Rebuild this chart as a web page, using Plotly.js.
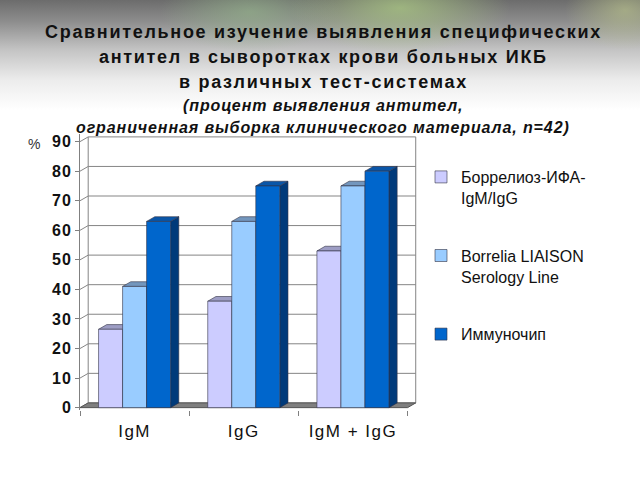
<!DOCTYPE html>
<html>
<head>
<meta charset="utf-8">
<script src="https://cdn.plot.ly/plotly-3.0.1.min.js"></script>
<style>
html,body{margin:0;padding:0;}
body{width:640px;height:480px;overflow:hidden;
background:
 radial-gradient(ellipse 110px 45px at 400px 8px, rgba(170,200,130,0.75), rgba(170,200,130,0) 100%),
 radial-gradient(ellipse 90px 40px at 250px 12px, rgba(150,185,140,0.6), rgba(150,185,140,0) 100%),
 radial-gradient(ellipse 60px 40px at 625px 10px, rgba(190,200,140,0.6), rgba(190,200,140,0) 100%),
 linear-gradient(to bottom, #6c6c6c 0px, #8e8e8e 22px, #c4c4c4 50px, #ececec 80px, #ffffff 110px);}
#chart{width:640px;height:480px;}
#chart .xtick text{letter-spacing:1.5px;}
#chart .ytick text{letter-spacing:1px;}
</style>
</head>
<body>
<div id="chart"></div>
<script>
// ---- data ----
const categories = ['IgM', 'IgG', 'IgM + IgG'];
const seriesNames = ['Боррелиоз-ИФА-<br>IgM/IgG', 'Borrelia LIAISON<br>Serology Line', 'Иммуночип'];
const borreliozIFA = [26.5, 36, 53];
const liaison = [41, 63, 75];
const immunochip = [63, 75, 80];
const yTicks = [0, 10, 20, 30, 40, 50, 60, 70, 80, 90];

// ---- styles ----
const frontColors = ['#CCCCFF', '#99CCFF', '#0066CC'];
const topColors = ['#9d9dc4', '#7396bd', '#0a56a8'];
const sideColors = ['#8f8fb8', '#6a8fb8', '#003a7a'];
const FONT = 'Liberation Sans, Arial, sans-serif';
const BAR_W = 0.22, DX = 0.075, DY = 1.6;
const L = 80, R = 221, T = 134, B = 70;
const XR = [-0.5, 2.5 + DX + 0.03], YR = [-0.8, 92.58];
const PW = 640 - L - R, PH = 480 - T - B;
const px2x = p => (p - L) / PW;
const py2y = p => (480 - B - p) / PH;

const allValues = [borreliozIFA, liaison, immunochip];
const traces = [];

// back-wall gridlines with left-wall diagonals
const gx = [], gy = [];
yTicks.forEach(t => { gx.push(XR[0], -0.5 + DX, 2.5 + DX, null); gy.push(t, t + DY, t + DY, null); });
gx.push(-0.5 + DX, -0.5 + DX, null, 2.5 + DX, 2.5 + DX, null);
gy.push(DY, 90 + DY, null, DY, 90 + DY, null);
traces.push({x: gx, y: gy, mode: 'lines', line: {color: '#858585', width: 1}, showlegend: false, hoverinfo: 'skip'});

// floor
traces.push({x: [-0.5, 2.5, 2.5 + DX, -0.5 + DX, -0.5], y: [0, 0, DY, DY, 0], mode: 'lines', fill: 'toself',
  fillcolor: '#7f7f7f', line: {color: '#555555', width: 1}, showlegend: false, hoverinfo: 'skip'});

// 3D faces
allValues.forEach((vals, j) => {
  const sx = [], sy = [], tx = [], ty = [];
  vals.forEach((v, i) => {
    const c = i + (j - 1) * BAR_W;
    const a = c - BAR_W / 2, b = c + BAR_W / 2;
    sx.push(b, b + DX, b + DX, b, b, null); sy.push(0, DY, v + DY, v, 0, null);
    tx.push(a, b, b + DX, a + DX, a, null); ty.push(v, v, v + DY, v + DY, v, null);
  });
  traces.push({x: sx, y: sy, mode: 'lines', fill: 'toself', fillcolor: sideColors[j],
    line: {color: '#333344', width: 0.6}, showlegend: false, hoverinfo: 'skip'});
  traces.push({x: tx, y: ty, mode: 'lines', fill: 'toself', fillcolor: topColors[j],
    line: {color: '#333344', width: 0.6}, showlegend: false, hoverinfo: 'skip'});
});

// front faces as bars
allValues.forEach((vals, j) => {
  traces.push({type: 'bar', name: seriesNames[j], legendgroup: 'g' + j,
    x: vals.map((v, i) => i + (j - 1) * BAR_W), y: vals, width: BAR_W,
    yaxis: 'y2', marker: {color: frontColors[j], line: {color: '#333344', width: 0.6}}, hoverinfo: 'skip'});
});

const titleLines = [
  {t: 'Сравнительное изучение выявления специфических', y: 32, s: 18, it: false, ls: 1.7},
  {t: 'антител в сыворотках крови больных ИКБ', y: 57, s: 18, it: false, ls: 1.7},
  {t: 'в различных тест-системах', y: 82, s: 18, it: false, ls: 1.7},
  {t: '(процент выявления антител,', y: 105, s: 16, it: true, ls: 0.9},
  {t: 'ограниченная выборка клинического материала, n=42)', y: 127, s: 16, it: true, ls: 0.9}
];
const annotations = titleLines.map(l => ({
  text: '<span style="letter-spacing:' + l.ls + 'px"><b>' + (l.it ? '<i>' + l.t + '</i>' : l.t) + '</b></span>',
  xref: 'paper', yref: 'paper', x: px2x(323), y: py2y(l.y), xanchor: 'center', yanchor: 'middle',
  showarrow: false, font: {family: FONT, size: l.s, color: '#111111'}
}));
annotations.push({text: '%', xref: 'paper', yref: 'paper', x: px2x(34), y: py2y(144), xanchor: 'center', yanchor: 'middle',
  showarrow: false, font: {family: FONT, size: 14, color: '#333333'}});

const layout = {
  width: 640, height: 480,
  margin: {l: L, r: R, t: T, b: B},
  paper_bgcolor: 'rgba(0,0,0,0)', plot_bgcolor: '#ffffff',
  barmode: 'overlay', bargap: 0,
  showlegend: true,
  legend: {x: px2x(421), y: py2y(160), xanchor: 'left', yanchor: 'top', valign: 'top',
    tracegroupgap: 34, bgcolor: 'rgba(0,0,0,0)',
    font: {family: FONT, size: 16, color: '#111111'}},
  xaxis: {range: XR, tickmode: 'array', tickvals: [0, 1, 2], ticktext: categories, ticks: '',
    showgrid: false, zeroline: false, showline: false, ticklabelstandoff: 9,
    tickfont: {family: FONT, size: 17, color: '#111111'},
    minor: {tickmode: 'array', tickvals: [-0.5, 0.5, 1.5, 2.5], ticks: 'outside', ticklen: 5, tickcolor: '#808080', tickwidth: 1, showgrid: false}},
  yaxis: {range: YR, tickmode: 'array', tickvals: yTicks, ticks: 'outside', ticklen: 4, tickcolor: '#808080',
    showgrid: false, zeroline: false, showline: true, linecolor: '#808080', linewidth: 1,
    tickfont: {family: FONT, size: 16, color: '#111111', weight: 'bold'}},
  yaxis2: {range: YR, overlaying: 'y', visible: false, showgrid: false, zeroline: false},
  annotations: annotations
};

Plotly.newPlot('chart', traces, layout, {displayModeBar: false, staticPlot: true});
</script>
</body>
</html>
